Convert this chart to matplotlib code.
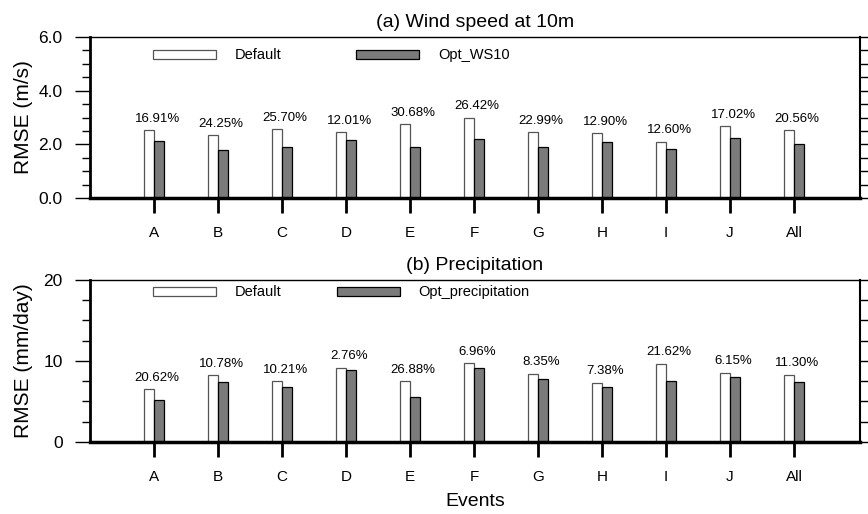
import numpy as np
import matplotlib.pyplot as plt
from matplotlib.patches import Rectangle
from matplotlib.ticker import MultipleLocator

plt.rcParams["font.family"] = ["Liberation Sans", "DejaVu Sans"]

events = ["A", "B", "C", "D", "E", "F", "G", "H", "I", "J", "All"]

# (a) wind speed RMSE (m/s)
ws_default = [2.54, 2.35, 2.56, 2.45, 2.74, 2.99, 2.46, 2.41, 2.10, 2.67, 2.54]
ws_opt = [2.11, 1.78, 1.90, 2.15, 1.90, 2.19, 1.90, 2.10, 1.84, 2.23, 2.01]
ws_pct = ["16.91%", "24.25%", "25.70%", "12.01%", "30.68%", "26.42%",
          "22.99%", "12.90%", "12.60%", "17.02%", "20.56%"]

# (b) precipitation RMSE (mm/day)
pr_default = [6.54, 8.23, 7.49, 9.18, 7.49, 9.71, 8.44, 7.33, 9.67, 8.56, 8.31]
pr_opt = [5.17, 7.36, 6.74, 8.93, 5.50, 9.08, 7.74, 6.82, 7.57, 8.05, 7.37]
pr_pct = ["20.62%", "10.78%", "10.21%", "2.76%", "26.88%", "6.96%",
          "8.35%", "7.38%", "21.62%", "6.15%", "11.30%"]

gray = "#7b7b7b"
x = np.arange(1, len(events) + 1)
w = 0.156

fig = plt.figure(figsize=(8.68, 5.14), dpi=100)
ax1 = fig.add_axes([0.1037, 0.6148, 0.887, 0.3132])
ax2 = fig.add_axes([0.1037, 0.1401, 0.887, 0.3152])


def draw_panel(ax, dflt, opt, pct, ymax, major, minor, fmt, title, ylabel,
               opt_name, gray_x, text_x, leg_y):
    ax.bar(x - w / 2, dflt, width=w, color="white", edgecolor="#555555", linewidth=0.9)
    ax.bar(x + w / 2, opt, width=w, color=gray, edgecolor="black", linewidth=0.9)
    for xi, yi, s in zip(x, dflt, pct):
        ax.annotate(s, (xi + 0.05, yi), xytext=(0, 6), textcoords="offset points",
                    ha="center", va="baseline", fontsize=9.5)
    ax.set_xlim(0, 12.03)
    ax.set_ylim(0, ymax)
    ax.set_xticks(x)
    ax.set_xticklabels(events, fontsize=11)
    ax.yaxis.set_major_locator(MultipleLocator(major))
    ax.yaxis.set_minor_locator(MultipleLocator(minor))
    ax.yaxis.set_major_formatter(fmt)
    ax.tick_params(axis="y", which="major", length=10.8, width=1, labelsize=12.5,
                   pad=9, right=True, direction="out")
    ax.tick_params(axis="y", which="minor", length=5.8, width=1, right=True, direction="out")
    ax.tick_params(axis="x", length=10.8, width=2, pad=9.5, direction="out")
    ax.spines["bottom"].set_linewidth(2.5)
    ax.spines["left"].set_linewidth(2)
    ax.spines["right"].set_linewidth(1.5)
    ax.spines["top"].set_linewidth(1)
    ax.set_title(title, fontsize=14, pad=7)
    ax.set_ylabel(ylabel, fontsize=15)
    ax.yaxis.set_label_coords(-0.074, 0.5)

    # legend drawn by hand, as in the original
    h = 0.055
    ax.add_patch(Rectangle((0.0818, leg_y - h / 2), 0.0818, h, transform=ax.transAxes,
                           facecolor="white", edgecolor="#555555", linewidth=0.9, clip_on=False))
    ax.text(0.188, leg_y, "Default", transform=ax.transAxes, va="center", fontsize=10.5)
    ax.add_patch(Rectangle((gray_x, leg_y - h / 2), 0.0818, h, transform=ax.transAxes,
                           facecolor=gray, edgecolor="black", linewidth=0.9, clip_on=False))
    ax.text(text_x, leg_y, opt_name, transform=ax.transAxes, va="center", fontsize=10.5)


draw_panel(ax1, ws_default, ws_opt, ws_pct, 6.0, 2.0, 0.5, "{x:.1f}",
           "(a) Wind speed at 10m", "RMSE (m/s)", "Opt_WS10", 0.345, 0.452, 0.889)
draw_panel(ax2, pr_default, pr_opt, pr_pct, 20, 10, 2.5, "{x:.0f}",
           "(b) Precipitation", "RMSE (mm/day)", "Opt_precipitation", 0.321, 0.426, 0.928)
ax2.set_xlabel("Events", fontsize=14, labelpad=6)

fig.savefig("out.png", dpi=100)
